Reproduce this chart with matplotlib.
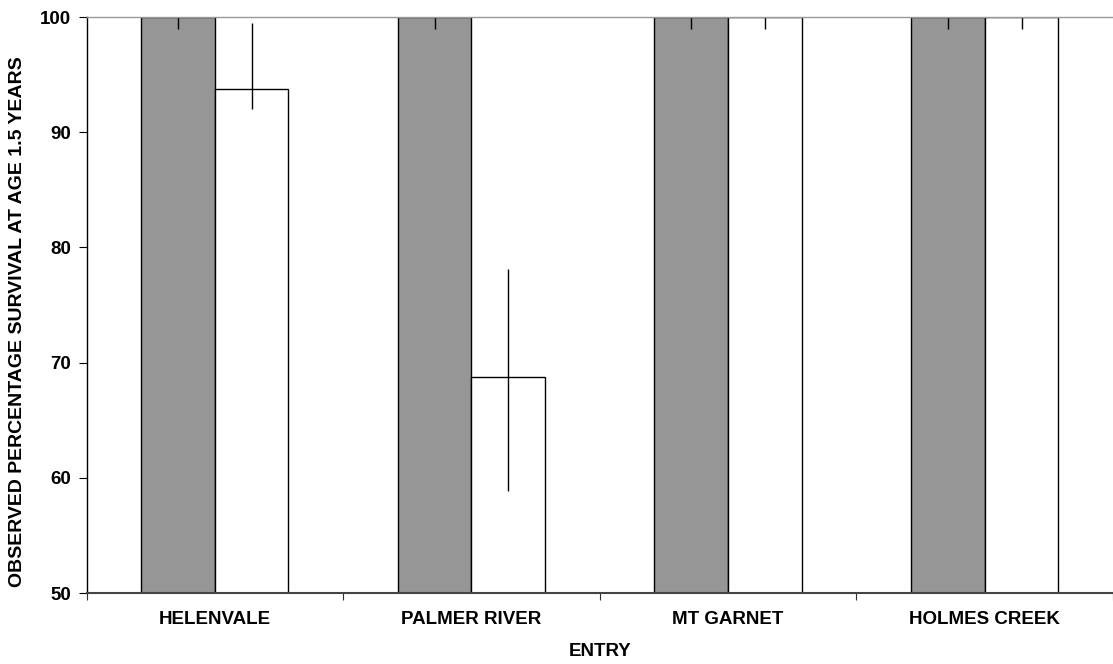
import matplotlib
matplotlib.use('Agg')
import matplotlib.pyplot as plt
import numpy as np

plt.rcParams['font.family'] = ['Liberation Sans', 'DejaVu Sans']
plt.rcParams['font.weight'] = 'bold'

# data
entries = ['HELENVALE', 'PALMER RIVER', 'MT GARNET', 'HOLMES CREEK']
grey_vals = [100, 100, 100, 100]
grey_err_lo = [1.05, 1.05, 1.05, 1.05]
grey_err_hi = [0, 0, 0, 0]
white_vals = [93.75, 68.75, 100, 100]
white_err_lo = [1.7, 9.9, 1.05, 1.05]
white_err_hi = [5.7, 9.4, 0, 0]
yticks = [50, 60, 70, 80, 90, 100]

fs = 13.5

fig = plt.figure(figsize=(11.13, 6.64), dpi=100)
ax = fig.add_axes([86.5 / 1113, 1 - 593 / 664, (1113 - 86.5) / 1113, 576 / 664])

x = np.arange(len(entries))
w = 0.287

ax.bar(x - w / 2, grey_vals, w, color='#969696', edgecolor='black',
       linewidth=1.0, zorder=2)
ax.bar(x + w / 2, white_vals, w, color='white', edgecolor='black',
       linewidth=1.0, zorder=2)
ax.errorbar(x - w / 2, grey_vals, yerr=[grey_err_lo, grey_err_hi], fmt='none',
            ecolor='black', elinewidth=1.0, capsize=0, zorder=3)
ax.errorbar(x + w / 2, white_vals, yerr=[white_err_lo, white_err_hi], fmt='none',
            ecolor='black', elinewidth=1.0, capsize=0, zorder=3)

ax.set_ylim(50, 100)
ax.set_xlim(-0.5, -0.5 + (1113 - 86.5) / 258)
ax.set_yticks(yticks)
ax.set_yticklabels([str(v) for v in yticks], fontsize=fs, fontweight='bold')

# category ticks at boundaries, labels centred
ax.set_xticks(np.arange(len(entries) + 1) - 0.5)
ax.set_xticklabels([])
ax.set_xticks(x, minor=True)
ax.set_xticklabels(entries, minor=True, fontsize=fs, fontweight='bold')
ax.tick_params(axis='x', which='minor', length=0, pad=13)
ax.tick_params(axis='x', which='major', length=5, width=0.8, color='#333333')
ax.tick_params(axis='y', length=6, width=0.8, pad=5)

ax.spines['right'].set_visible(False)
ax.spines['top'].set_color('#999999')
ax.spines['top'].set_linewidth(1.0)
ax.spines['left'].set_linewidth(1.0)
ax.spines['bottom'].set_color('#444444')
ax.spines['bottom'].set_linewidth(1.5)
for sp in ax.spines.values():
    sp.set_zorder(4)

ax.set_xlabel('ENTRY', fontsize=fs, fontweight='bold', labelpad=11)
ax.set_ylabel('OBSERVED PERCENTAGE SURVIVAL AT AGE 1.5 YEARS', fontsize=14,
              fontweight='bold')
ax.yaxis.set_label_coords(-60 / 1026.5, 0.472)

fig.savefig('out.png', dpi=100)
